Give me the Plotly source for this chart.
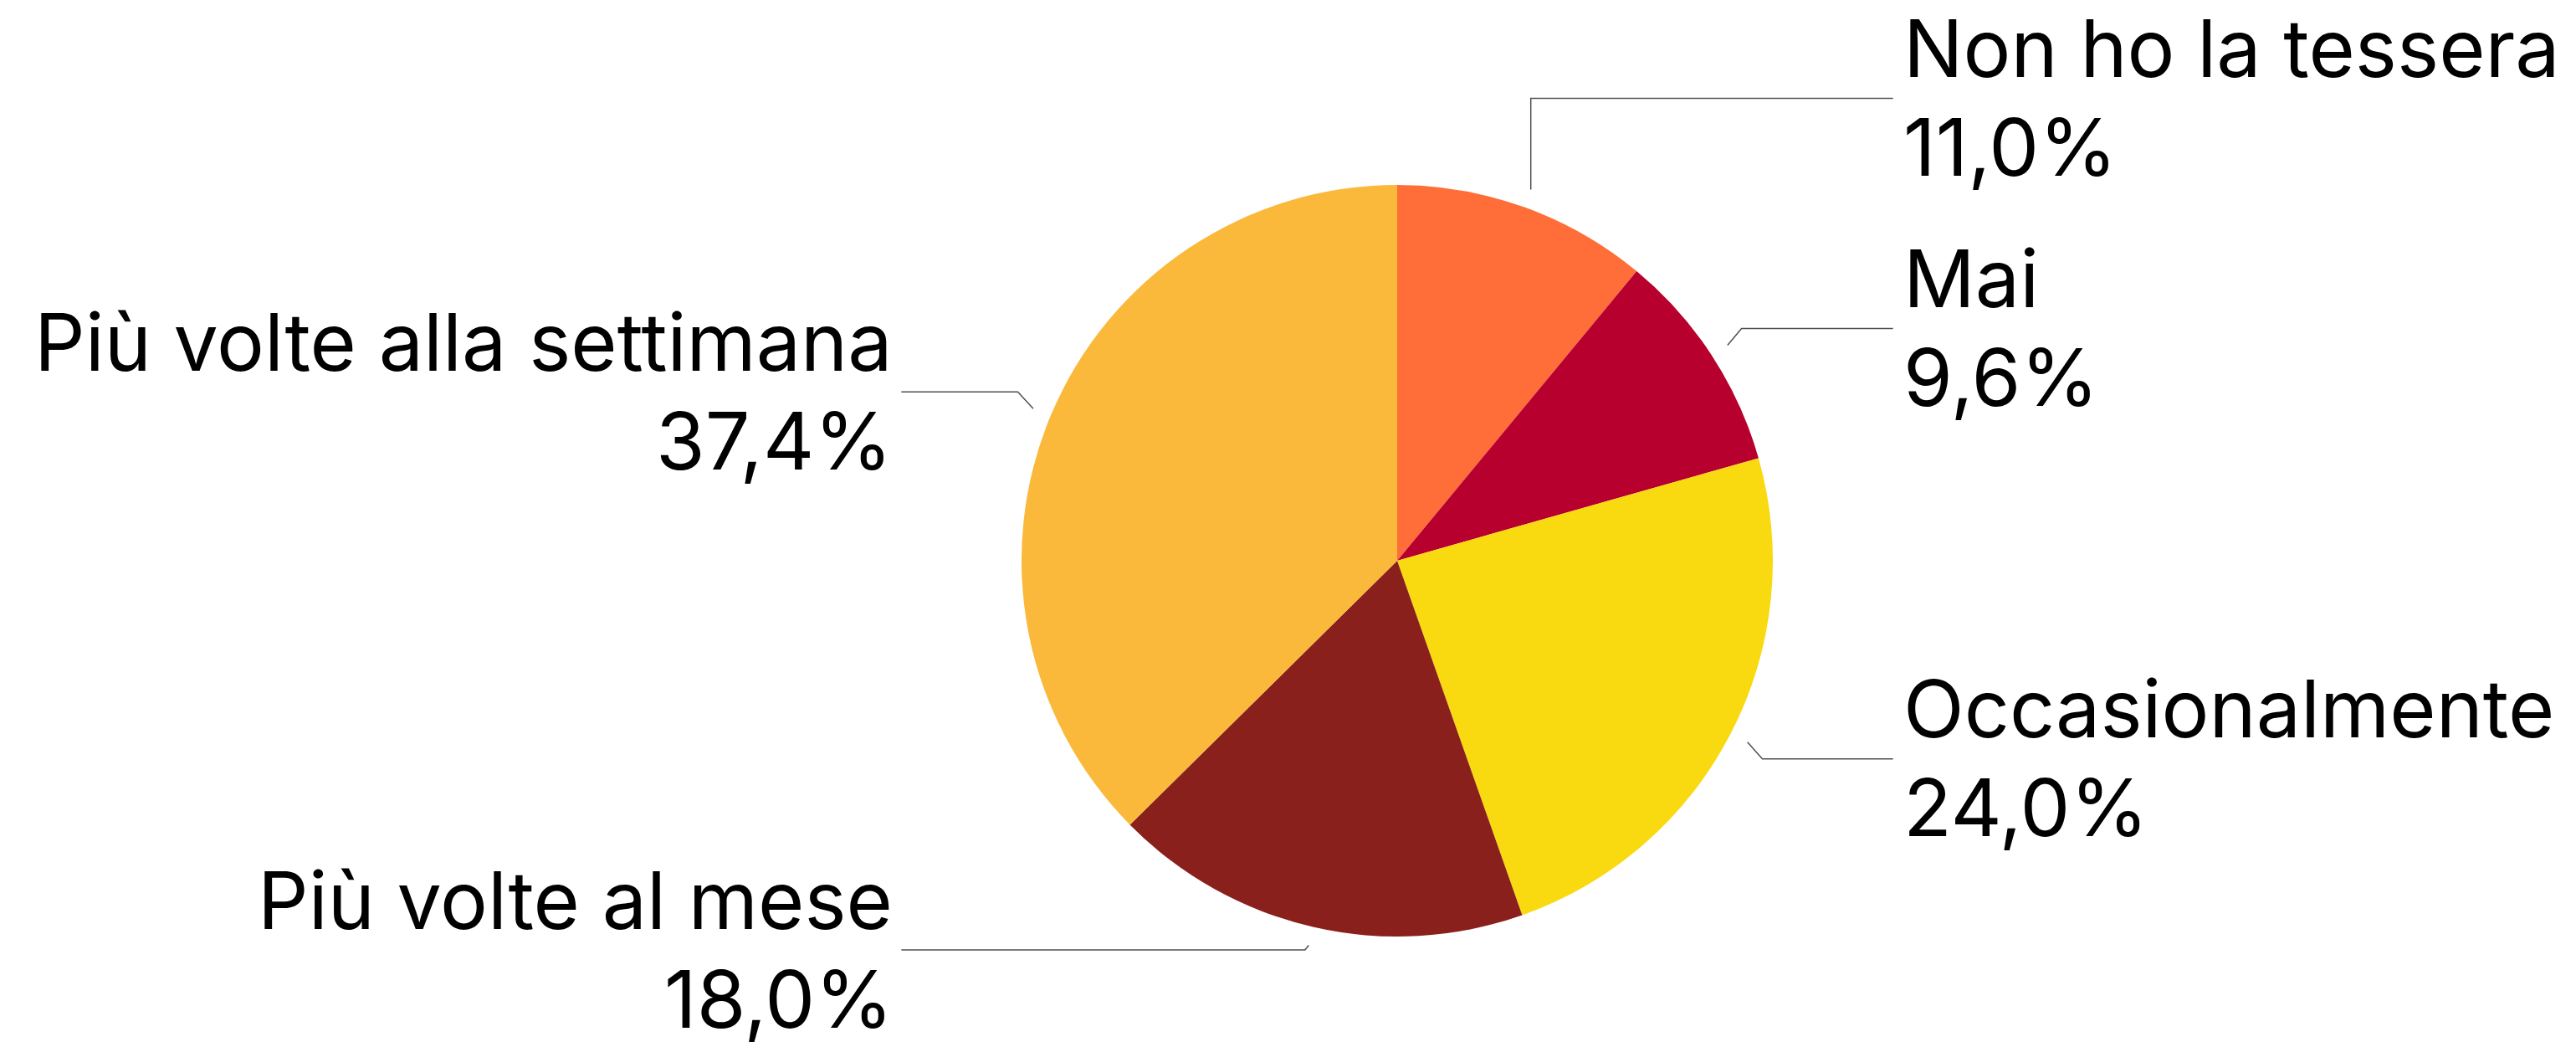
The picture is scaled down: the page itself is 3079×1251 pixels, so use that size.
import math
import plotly.graph_objects as go

# ---- data ----
labels = ["Non ho la tessera", "Mai", "Occasionalmente", "Più volte al mese", "Più volte alla settimana"]
values = [11.0, 9.6, 24.0, 18.0, 37.4]
colors = ["#FF6D38", "#B8002F", "#F9D910", "#89201B", "#FAB93B"]

# ---- layout geometry (pixels) ----
W, H = 3079, 1251
CX, CY, R = 1670, 670, 449
FONT = "Inter"
FS = 95
NAME_OFF, PCT_OFF = 60, 58

fig = go.Figure()
fig.add_trace(go.Pie(
    labels=labels, values=values, sort=False, direction="clockwise", rotation=0,
    marker=dict(colors=colors, line=dict(width=0)),
    textinfo="none", hoverinfo="label+percent", showlegend=False,
    domain=dict(x=[(CX - R) / W, (CX + R) / W], y=[(H - CY - R) / H, (H - CY + R) / H]),
))

total = sum(values)
cum = 0
items = []
for lab, v in zip(labels, values):
    mid = (cum + v / 2) / total * 2 * math.pi
    cum += v
    s, c = math.sin(mid), math.cos(mid)
    ax, ay = CX + 1.05 * R * s, CY - 1.05 * R * c
    ex = ax + 20 * s
    ey = ay + (-20 if c > 0 else 20)
    side = 1 if s >= 0 else -1
    items.append(dict(lab=lab, v=v, ax=ax, ay=ay, ex=ex, ey=min(ey, H - 116), side=side))

# resolve overlaps on each side: push upper labels upward
GAP = 275
for side in (1, -1):
    grp = sorted([it for it in items if it["side"] == side], key=lambda d: -d["ey"])
    for i in range(1, len(grp)):
        if grp[i - 1]["ey"] - grp[i]["ey"] < GAP:
            grp[i]["ey"] = grp[i - 1]["ey"] - GAP
            grp[i]["ex"] = grp[i]["ax"]

annotations = []
for it in items:
    endx = CX + it["side"] * 1.32 * R
    fig.add_trace(go.Scatter(
        x=[it["ax"], it["ex"], endx], y=[it["ay"], it["ey"], it["ey"]],
        mode="lines", line=dict(color="#505050", width=1.5),
        hoverinfo="skip", showlegend=False, xaxis="x", yaxis="y"))
    tx = endx + (10 if it["side"] > 0 else -8)
    anchor = "left" if it["side"] > 0 else "right"
    pct = f"{it['v']:.1f}%".replace(".", ",")
    annotations.append(dict(x=tx, y=it["ey"] - NAME_OFF, text=it["lab"], xref="x", yref="y",
                            xanchor=anchor, yanchor="middle", showarrow=False,
                            font=dict(family=FONT, size=FS, color="#000")))
    annotations.append(dict(x=tx, y=it["ey"] + PCT_OFF, text=pct, xref="x", yref="y",
                            xanchor=anchor, yanchor="middle", showarrow=False,
                            font=dict(family=FONT, size=FS, color="#000")))

fig.update_layout(
    width=W, height=H, margin=dict(l=0, r=0, t=0, b=0),
    paper_bgcolor="white", plot_bgcolor="rgba(0,0,0,0)",
    xaxis=dict(range=[0, W], visible=False, domain=[0, 1], fixedrange=True),
    yaxis=dict(range=[H, 0], visible=False, domain=[0, 1], fixedrange=True),
    annotations=annotations, showlegend=False,
)

fig.write_html("out.html")
